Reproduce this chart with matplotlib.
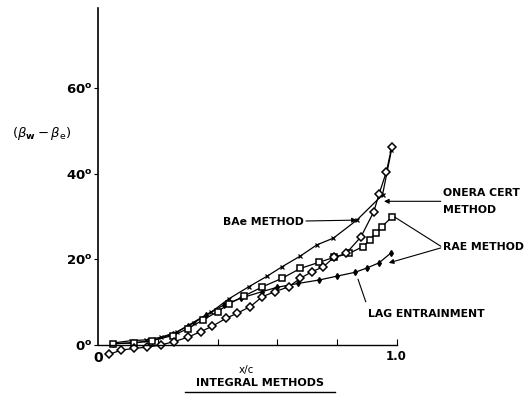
import matplotlib
matplotlib.use("Agg")
import matplotlib.pyplot as plt

# chordwise station x/c and flow angle difference (deg)
bae_x = [0.053, 0.11, 0.16, 0.21, 0.266, 0.321, 0.377, 0.438, 0.504, 0.566,
         0.616, 0.677, 0.732, 0.788, 0.866, 0.952, 0.982]
bae_y = [0.5, 1.0, 1.2, 1.8, 3.1, 5.2, 7.6, 10.8, 13.6, 16.1,
         18.3, 20.8, 23.4, 25.0, 29.2, 35.1, 45.6]

onera_x = [0.037, 0.077, 0.12, 0.165, 0.21, 0.255, 0.30, 0.343, 0.383, 0.427,
           0.465, 0.51, 0.55, 0.593, 0.638, 0.677, 0.715, 0.754, 0.79, 0.83,
           0.88, 0.923, 0.94, 0.965, 0.983]
onera_y = [-2.2, -1.2, -0.8, -0.5, 0.0, 0.8, 1.8, 3.1, 4.4, 6.2,
           7.4, 9.0, 11.3, 12.5, 13.6, 15.6, 17.1, 18.3, 20.5, 21.4,
           25.3, 31.2, 35.2, 40.5, 46.3]

rae_x = [0.05, 0.12, 0.18, 0.25, 0.30, 0.35, 0.40, 0.44, 0.49, 0.55,
         0.616, 0.677, 0.738, 0.79, 0.84, 0.886, 0.91, 0.93, 0.95, 0.985]
rae_y = [0.3, 0.5, 1.0, 2.2, 3.8, 5.8, 7.8, 9.7, 11.5, 13.6,
         15.6, 17.9, 19.3, 20.5, 21.4, 23.0, 24.6, 26.3, 27.7, 30.0]

lag_x = [0.05, 0.12, 0.18, 0.25, 0.30, 0.36, 0.42, 0.48, 0.55, 0.60,
         0.67, 0.74, 0.80, 0.86, 0.90, 0.94, 0.98]
lag_y = [0.3, 0.5, 1.0, 2.5, 4.5, 7.0, 9.3, 11.0, 12.5, 13.5,
         14.4, 15.2, 16.1, 17.0, 18.0, 19.2, 21.5]

ytick_vals = [0, 20, 40, 60]
ytick_labels = [r"$\mathbf{0^o}$", r"$\mathbf{20^o}$", r"$\mathbf{40^o}$", r"$\mathbf{60^o}$"]

fig = plt.figure(figsize=(5.28, 4.0), dpi=100)
ax = fig.add_axes([0.1856, 0.1375, 0.566, 0.8425])

ax.plot(bae_x, bae_y, color="black", lw=0.9, marker="x", ms=3, mew=0.9, clip_on=False)
ax.plot(lag_x, lag_y, color="black", lw=0.9, marker="d", ms=3, mfc="black", clip_on=False)
ax.plot(rae_x, rae_y, color="black", lw=0.9, marker="s", ms=4, mfc="white", mew=1.1, clip_on=False)
ax.plot(onera_x, onera_y, color="black", lw=0.9, marker="D", ms=4, mfc="white", mew=1.1, clip_on=False)

ax.set_xlim(0, 1.0)
ax.set_ylim(0, 78.8)
for s in ["top", "right"]:
    ax.spines[s].set_visible(False)
ax.spines["left"].set_linewidth(1.2)
ax.spines["bottom"].set_linewidth(1.0)

ax.set_yticks(ytick_vals)
ax.set_yticklabels(ytick_labels, fontsize=9.5)
ax.tick_params(axis="y", direction="out", length=3, pad=1)
ax.set_xticks([0.2, 0.4, 0.6, 0.8, 1.0])
ax.set_xticklabels([])
ax.tick_params(axis="x", direction="in", length=4)

bold = dict(fontsize=7.8, fontweight="bold", color="black")
arrow = dict(arrowstyle="-|>", color="black", lw=0.8, mutation_scale=7, shrinkA=0, shrinkB=0)
line = dict(arrowstyle="-", color="black", lw=0.8, shrinkA=0, shrinkB=0)

ax.text(0.418, 28.8, "BAe METHOD", va="center", **bold)
ax.annotate("", xy=(0.866, 29.2), xytext=(0.696, 29.0), arrowprops=arrow, annotation_clip=False)
ax.annotate("", xy=(0.957, 33.6), xytext=(1.147, 33.6), arrowprops=arrow, annotation_clip=False)
ax.text(1.154, 35.6, "ONERA CERT", va="center", **bold)
ax.text(1.154, 31.6, "METHOD", va="center", **bold)
ax.text(1.154, 22.9, "RAE METHOD", va="center", **bold)
ax.annotate("", xy=(0.993, 29.9), xytext=(1.147, 23.1), arrowprops=line, annotation_clip=False)
ax.annotate("", xy=(0.973, 19.2), xytext=(1.147, 22.7), arrowprops=arrow, annotation_clip=False)
ax.text(0.903, 7.3, "LAG ENTRAINMENT", va="center", **bold)
ax.annotate("", xy=(0.87, 15.4), xytext=(0.896, 10.1), arrowprops=line, annotation_clip=False)

ax.text(0.0, -3.0, "0", ha="center", va="center", fontsize=10, fontweight="bold")
ax.text(0.997, -2.8, "1.0", ha="center", va="center", fontsize=8.5, fontweight="bold")
ax.text(0.495, -5.8, "x/c", ha="center", va="center", fontsize=7.5)
fig.text(0.078, 0.665, r"$(\beta_\mathbf{w}-\beta_\mathrm{e})$", ha="center", va="center",
         fontsize=9.5)

fig.text(0.492, 0.043, "INTEGRAL METHODS", ha="center", va="center",
         fontsize=8, fontweight="bold")
fig.add_artist(plt.Line2D([0.35, 0.635], [0.02, 0.02], color="black", lw=1.0))

fig.savefig("out.png", dpi=100)
